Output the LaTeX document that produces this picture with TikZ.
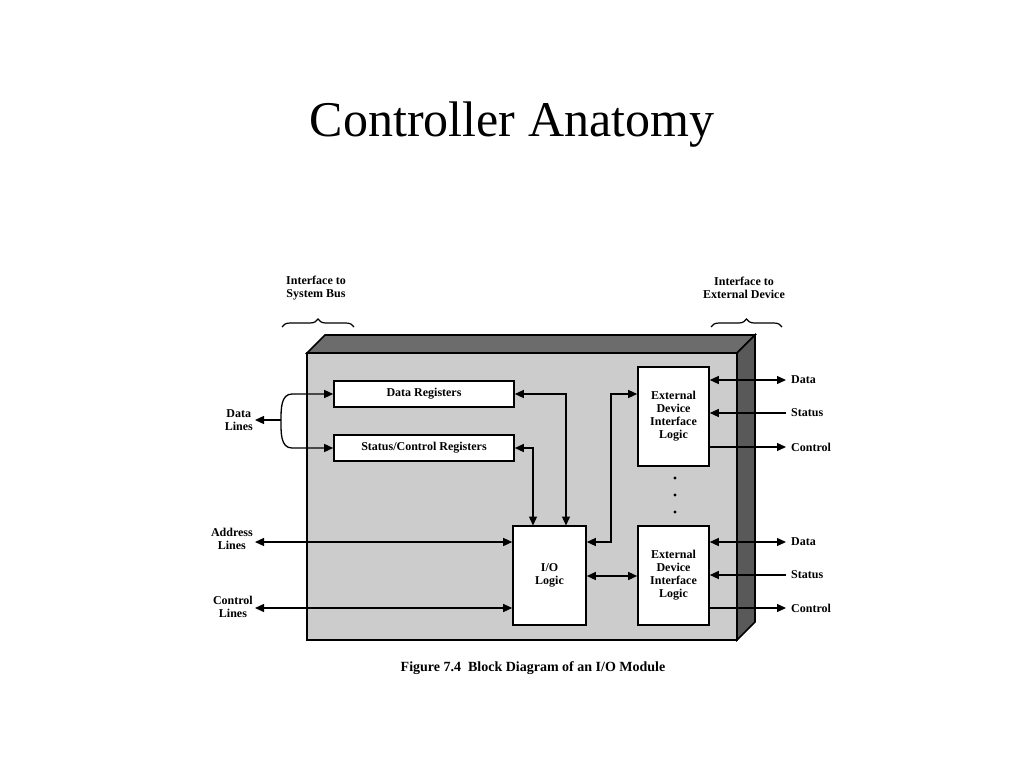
\documentclass[tikz,border=0pt]{standalone}
\usepackage{fontspec}
\setmainfont{Liberation Serif}
\usetikzlibrary{arrows.meta,decorations.pathreplacing}
\begin{document}
\begin{tikzpicture}[x=1pt,y=-1pt,
  box/.style={draw,line width=1.6pt,fill=white,inner sep=0pt},
  lbl/.style={font=\fontsize{12}{13}\selectfont\bfseries,align=center,inner sep=0pt},
  ln/.style={line width=1.3pt},
  tip/.style={-{Triangle[length=9pt,width=8pt]}},
  dtip/.style={{Triangle[length=9pt,width=8pt]}-{Triangle[length=9pt,width=8pt]}},
  br/.style={decorate,decoration={brace,amplitude=8pt},line width=1.2pt}]
\useasboundingbox (0,0) rectangle (1024,768);
\node (title) at (512,125) {\fontsize{50}{56}\selectfont Controller Anatomy};
% module
\draw[line width=1.6pt,fill=gray!85!black] (307,353) -- (325,335) -- (755,335) -- (737,353) -- cycle;
\draw[line width=1.6pt,fill=gray!70!black] (737,353) -- (755,335) -- (755,622) -- (737,640) -- cycle;
\draw[line width=1.6pt,fill=gray!40] (307,353) rectangle (737,640);
% boxes
\node[box,minimum width=180pt,minimum height=26pt,lbl] (dr) at (424,394) {Data Registers};
\node[box,minimum width=180pt,minimum height=26pt,lbl] (sr) at (424,448) {Status/Control Registers};
\node[box,minimum width=73pt,minimum height=99pt,lbl] (io) at (549.5,575.5) {I/O\\Logic};
\node[box,minimum width=71pt,minimum height=99pt,lbl] (e1) at (673.5,416.5) {External\\Device\\Interface\\Logic};
\node[box,minimum width=71pt,minimum height=99pt,lbl] (e2) at (673.5,575.5) {External\\Device\\Interface\\Logic};
\foreach \y in {478,495,512} \fill (675,\y) circle (1.6pt);
% left labels
\node[lbl,anchor=east] (dl) at (253,420) {Data\\Lines};
\node[lbl,anchor=east] (al) at (253,539) {Address\\Lines};
\node[lbl,anchor=east] (cl) at (253,607) {Control\\Lines};
\coordinate (j) at (281,420);
\draw[ln,tip] (j) -- (255,420);
\draw[ln,tip] (j) to[out=90,in=180] (292,394) -- (dr.west);
\draw[ln,tip] (j) to[out=-90,in=180] (292,448) -- (sr.west);
\draw[ln,dtip] (255,542) -- (io.west|-0,542);
\draw[ln,dtip] (255,608) -- (io.west|-0,608);
% internal
\draw[ln,dtip] (dr.east) -- (566,394) -- (566,525.5);
\draw[ln,dtip] (sr.east) -- (533,448) -- (533,525.5);
\draw[ln,dtip] (io.east|-0,542) -- (611,542) -- (611,394) -- (e1.west|-0,394);
\draw[ln,dtip] (io.east|-0,576) -- (e2.west|-0,576);
% right
\foreach \e/\a/\b/\c in {e1/380/413/447,e2/542/575/608}{
  \draw[ln,dtip] (\e.east|-0,\a) -- (786,\a);
  \draw[ln,tip] (786,\b) -- (\e.east|-0,\b);
  \draw[ln,tip] (\e.east|-0,\c) -- (786,\c);
  \node[lbl,anchor=west] at (791,\a) {Data};
  \node[lbl,anchor=west] at (791,\b) {Status};
  \node[lbl,anchor=west] at (791,\c) {Control};
}
% braces
\draw[br] (282,327) -- (354,327);
\node[lbl] (ib) at (316,288) {Interface to\\System Bus};
\draw[br] (711,327) -- (782,327);
\node[lbl] (ie) at (744,288) {Interface to\\External Device};
\node[font=\fontsize{14}{16}\selectfont\bfseries] (cap) at (533,668) {Figure 7.4\ \ Block Diagram of an I/O Module};
\end{tikzpicture}
\end{document}
